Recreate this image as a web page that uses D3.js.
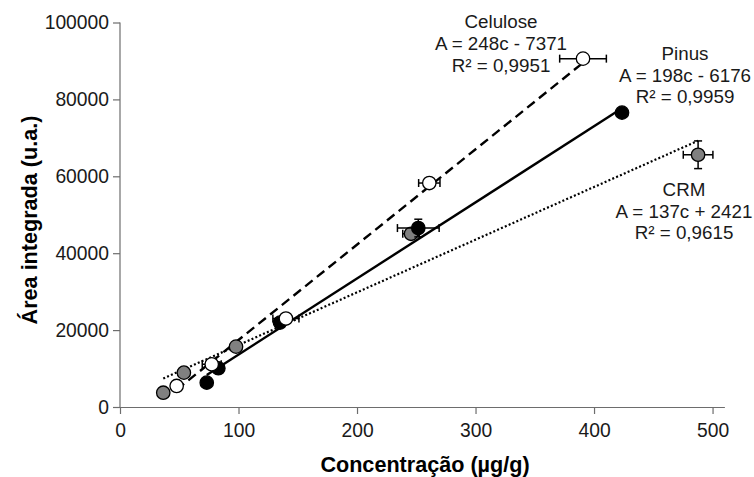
<!DOCTYPE html>
<html><head><meta charset="utf-8">
<script src="https://cdn.jsdelivr.net/npm/d3@7"></script>
<style>body{margin:0;background:#fff;}svg{display:block;font-family:"Liberation Sans",Arial,sans-serif;}</style>
</head><body><svg id="c" width="754" height="477"></svg>
<script>
// Data
const xTicks = [0, 100, 200, 300, 400, 500];
const yTicks = [0, 20000, 40000, 60000, 80000, 100000];

const celuloseC = [47.8, 77.4, 140, 261, 390.7];
const celuloseA = [5470, 11120, 23000, 58250, 90600];
const celuloseXErr = [0, 8, 11, 9, 19.7];
const celuloseYErr = [0, 0, 0, 0, 0];

const pinusC = [73.2, 83, 135, 251.7, 423.6];
const pinusA = [6330, 10080, 21950, 46540, 76560];
const pinusXErr = [0, 0, 0, 17.6, 0];
const pinusYErr = [0, 0, 0, 2300, 0];

const crmC = [36.5, 53.9, 97.9, 245.6, 487.8];
const crmA = [3720, 8930, 15700, 45050, 65600];
const crmXErr = [0, 0, 0, 7, 12.5];
const crmYErr = [0, 0, 0, 0, 3600];

const seriesNames = ["CRM", "Pinus", "Celulose"];
const slopes = [137, 198, 248];
const intercepts = [2421, -6176, -7371];
const eqLabels = ["A = 137c + 2421", "A = 198c - 6176", "A = 248c - 7371"];
const r2Labels = ["R² = 0,9615", "R² = 0,9959", "R² = 0,9951"];

const svg = d3.select("#c");
const x = d3.scaleLinear().domain([0, 510]).range([120, 724.4]);
const y = d3.scaleLinear().domain([0, 100000]).range([407, 22.5]);

const series = [
  {name: seriesNames[0], c: crmC, a: crmA, xe: crmXErr, ye: crmYErr, fill: "#808080", dash: "2,2.2", w: 2.2, m: slopes[0], b: intercepts[0], eq: eqLabels[0], r2: r2Labels[0], lx: 684, ly: 189.3},
  {name: seriesNames[1], c: pinusC, a: pinusA, xe: pinusXErr, ye: pinusYErr, fill: "#000", dash: null, w: 2.4, m: slopes[1], b: intercepts[1], eq: eqLabels[1], r2: r2Labels[1], lx: 685, ly: 53.3},
  {name: seriesNames[2], c: celuloseC, a: celuloseA, xe: celuloseXErr, ye: celuloseYErr, fill: "#fff", dash: "9.5,5.5", w: 2.4, m: slopes[2], b: intercepts[2], eq: eqLabels[2], r2: r2Labels[2], lx: 501, ly: 21.7}
];

// Axes
const yAxis = svg.append("g").attr("transform", "translate(120,0)")
  .call(d3.axisLeft(y).tickValues(yTicks).tickSize(7).tickPadding(4).tickFormat(d3.format("d")));
const xAxis = svg.append("g").attr("transform", "translate(0,407)")
  .call(d3.axisBottom(x).tickValues(xTicks).tickSize(7).tickPadding(9).tickSizeOuter(0));
[yAxis, xAxis].forEach(g => {
  g.select(".domain").attr("stroke", "#6d6d6d").attr("stroke-width", 1.2);
  g.selectAll(".tick line").attr("stroke", "#6d6d6d").attr("stroke-width", 1.2);
  g.selectAll("text").attr("font-size", 19.3).attr("fill", "#1a1a1a").attr("font-family", "'Liberation Sans', Arial, sans-serif");
});
yAxis.select(".domain").attr("d", "M0,407V22.5");

// Trendlines
series.forEach(s => {
  const c0 = d3.min(s.c), c1 = d3.max(s.c);
  svg.append("line")
    .attr("x1", x(c0)).attr("y1", y(s.m * c0 + s.b))
    .attr("x2", x(c1)).attr("y2", y(s.m * c1 + s.b))
    .attr("stroke", "#000").attr("stroke-width", s.w)
    .attr("stroke-dasharray", s.dash);
});

// Error bars + markers
series.forEach(s => {
  const g = svg.append("g");
  s.c.forEach((cv, i) => {
    const cx = x(cv), cy = y(s.a[i]);
    if (s.xe[i] > 0) {
      const xa = x(cv - s.xe[i]), xb = x(cv + s.xe[i]);
      g.append("line").attr("x1", xa).attr("x2", xb).attr("y1", cy).attr("y2", cy).attr("stroke", "#000").attr("stroke-width", 1.5);
      [xa, xb].forEach(xx => g.append("line").attr("x1", xx).attr("x2", xx).attr("y1", cy - 4).attr("y2", cy + 4).attr("stroke", "#000").attr("stroke-width", 1.5));
    }
    if (s.ye[i] > 0) {
      const ya = y(s.a[i] - s.ye[i]), yb = y(s.a[i] + s.ye[i]);
      g.append("line").attr("x1", cx).attr("x2", cx).attr("y1", ya).attr("y2", yb).attr("stroke", "#000").attr("stroke-width", 1.5);
      [ya, yb].forEach(yy => g.append("line").attr("x1", cx - 4).attr("x2", cx + 4).attr("y1", yy).attr("y2", yy).attr("stroke", "#000").attr("stroke-width", 1.5));
    }
  });
  g.selectAll("circle").data(s.c).join("circle")
    .attr("cx", d => x(d)).attr("cy", (d, i) => y(s.a[i])).attr("r", 6.7)
    .attr("fill", s.fill).attr("stroke", "#000").attr("stroke-width", 1.3);
});

// Equation labels
series.forEach(s => {
  const t = svg.append("text").attr("text-anchor", "middle").attr("font-size", 18.8).attr("fill", "#1a1a1a");
  [s.name, s.eq, s.r2].forEach((txt, k) => {
    t.append("tspan").attr("x", s.lx).attr("y", s.ly + k * 21.7 + 6.7).text(txt);
  });
});

// Axis titles
svg.append("text").attr("x", 425).attr("y", 472).attr("text-anchor", "middle")
  .attr("font-size", 21.6).attr("font-weight", "bold").attr("fill", "#000").text("Concentração (µg/g)");
svg.append("text").attr("transform", "translate(37,220) rotate(-90)").attr("text-anchor", "middle")
  .attr("font-size", 21.6).attr("font-weight", "bold").attr("fill", "#000").text("Área integrada (u.a.)");
</script></body></html>
